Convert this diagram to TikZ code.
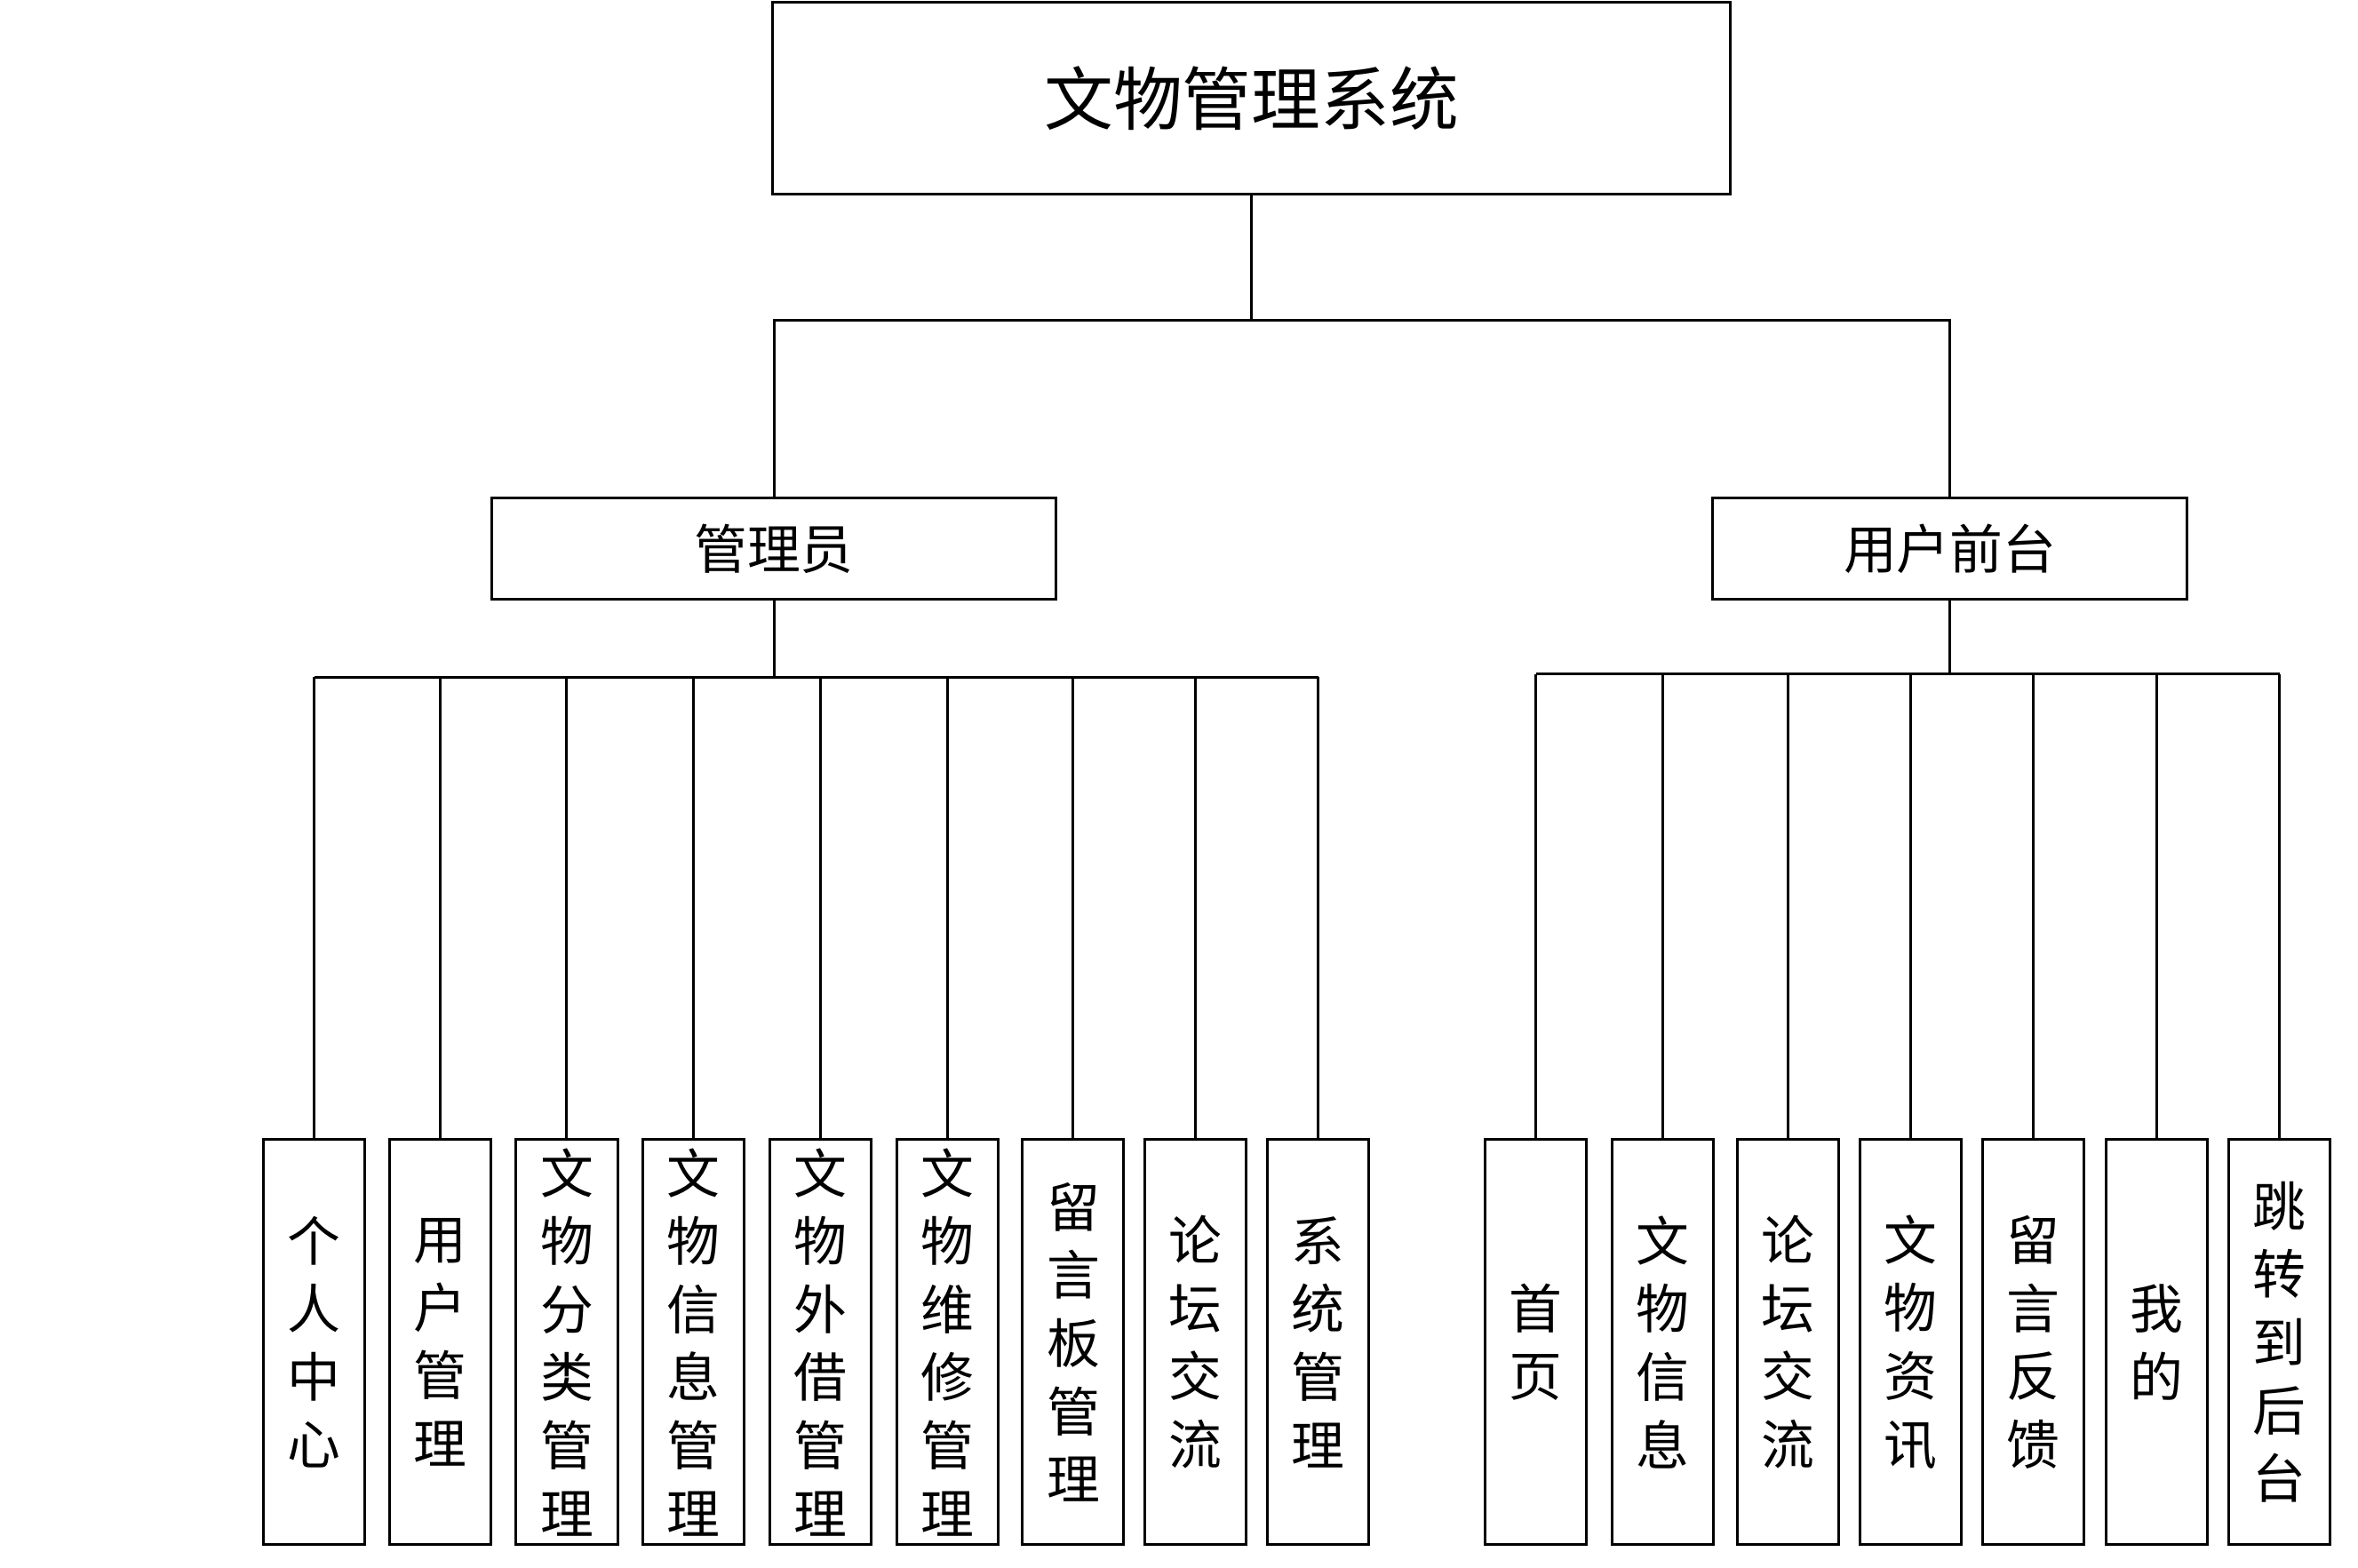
\documentclass[tikz,border=0pt]{standalone}
\usepackage{fontspec}
\setmainfont{Noto Sans CJK SC}
\usetikzlibrary{positioning}

\begin{document}
\begin{tikzpicture}[
    x=0.01cm,y=-0.01cm,
    box/.style={draw,line width=0.5pt,inner sep=0pt},
    leaf/.style={box,minimum width=0.67cm,minimum height=2.68cm,align=center,
        font=\fontsize{10pt}{12.8pt}\selectfont},
    wire/.style={line width=0.5pt}
]
    \useasboundingbox (0,0) rectangle (1560,1037);

    % Root and second level
    \node[box,minimum width=6.33cm,minimum height=1.27cm,font=\fontsize{13pt}{15pt}\selectfont] (root) at (828,65) {文物管理系统};
    \node[box,minimum width=3.73cm,minimum height=0.67cm,font=\fontsize{10pt}{12pt}\selectfont] (admin) at (512,363) {管理员};
    \node[box,minimum width=3.14cm,minimum height=0.67cm,font=\fontsize{10pt}{12pt}\selectfont] (user) at (1290,363) {用户前台};

    \draw[wire] (root.south) -- (828,212) coordinate (hub);
    \draw[wire] (hub) -| (admin.north);
    \draw[wire] (hub) -| (user.north);

    % Admin modules
    \foreach \name/\x/\txt in {a1/208/个\\人\\中\\心, a2/291/用\\户\\管\\理,
        a3/375/文\\物\\分\\类\\管\\理, a4/459/文\\物\\信\\息\\管\\理,
        a5/543/文\\物\\外\\借\\管\\理, a6/627/文\\物\\维\\修\\管\\理,
        a7/710/留\\言\\板\\管\\理, a8/791/论\\坛\\交\\流, a9/872/系\\统\\管\\理} {
        \node[leaf] (\name) at (\x,888) {\txt};
        \draw[wire] (\name.north) -- (\x,448);
    }
    \draw[wire] (admin.south) -- (512,448);
    \draw[wire] (208,448) -- (872,448);

    % User modules
    \foreach \name/\x/\txt in {u1/1016/首\\页, u2/1100/文\\物\\信\\息,
        u3/1183/论\\坛\\交\\流, u4/1264/文\\物\\资\\讯, u5/1345/留\\言\\反\\馈,
        u6/1427/我\\的, u7/1508/跳\\转\\到\\后\\台} {
        \node[leaf] (\name) at (\x,888) {\txt};
        \draw[wire] (\name.north) -- (\x,446);
    }
    \draw[wire] (user.south) -- (1290,446);
    \draw[wire] (1016,446) -- (1508,446);
\end{tikzpicture}
\end{document}
